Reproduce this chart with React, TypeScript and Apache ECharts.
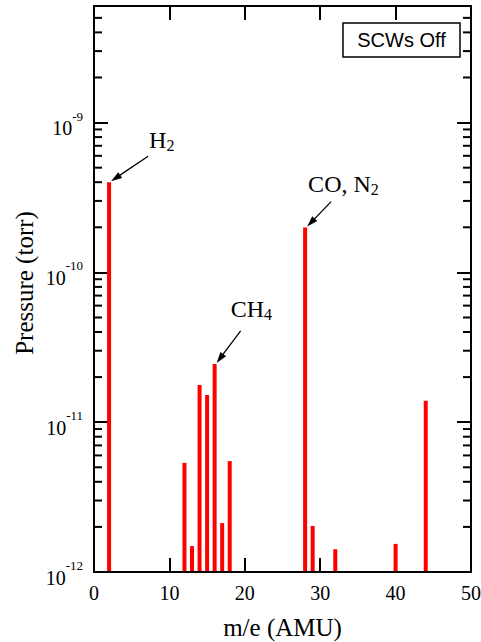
import React, { useEffect, useRef } from "react";
import * as echarts from "echarts";

// ---- data ----
const massNumbers = [2, 12, 13, 14, 15, 16, 17, 18, 28, 29, 32, 40, 44];
const pressures = [
  4.0e-10, 5.35e-12, 1.49e-12, 1.77e-11, 1.52e-11, 2.45e-11, 2.12e-12, 5.5e-12,
  1.99e-10, 2.03e-12, 1.42e-12, 1.54e-12, 1.39e-11,
];
const X_MIN = 0;
const X_MAX = 50;
const X_INTERVAL = 10;
const Y_MIN = 1e-12;
const Y_MAX = 6e-9;
const decadeExponents = [-12, -11, -10, -9];
const minorMultipliers = [2, 3, 4, 5, 6, 7, 8, 9];

const annotationMass = [2, 16, 28];
const annotationMain = ["H", "CH", "CO, N"];
const annotationSub = ["2", "4", "2"];
// pixel offsets relative to the bar top: [tailDx, tailDy, textDx, baselineDy]
const annotationOffsets = [
  [39, -26, 40, -34],
  [26, -33, 16, -47],
  [26, -26, 3, -36],
];

const legendText = "SCWs Off";

const SERIF_NAME = "Liberation Serif";
const SERIF = "'Liberation Serif', 'Times New Roman', serif";
const SANS = "'Liberation Sans', Arial, sans-serif";

const measureCtx = document.createElement("canvas").getContext("2d") as CanvasRenderingContext2D;
function textWidth(t: string, size: number): number {
  measureCtx.font = `${size}px '${SERIF_NAME}'`;
  return measureCtx.measureText(t).width;
}

export default function App() {
  const ref = useRef<HTMLDivElement>(null);

  useEffect(() => {
    document.body.style.margin = "0";
    const chart = echarts.init(ref.current as HTMLDivElement, null, { renderer: "svg" });

    const barData = massNumbers.map((m, i) => [m, pressures[i]]);
    const minorData: number[][] = [];
    decadeExponents.forEach((d) => {
      minorMultipliers.forEach((k) => {
        const v = k * Math.pow(10, d);
        if (v < Y_MAX * 0.999) minorData.push([X_MIN, v]);
      });
    });
    const decadeData = decadeExponents.map((e) => [X_MIN, Math.pow(10, e), e]);

    const axisLineStyle = { color: "#000", width: 2 };
    const majorTick = { show: true, inside: true, length: 14, lineStyle: { color: "#000", width: 2 } };

    const BASE_SIZE = 20;
    const SUP_SIZE = 13;

    const option: any = {
      animation: false,
      grid: { left: 94, right: 10, top: 6, bottom: 70, containLabel: false, outerBoundsMode: "none" },
      xAxis: [
        {
          type: "value",
          min: X_MIN,
          max: X_MAX,
          interval: X_INTERVAL,
          position: "bottom",
          axisLine: { show: true, onZero: false, lineStyle: axisLineStyle },
          axisTick: majorTick,
          axisLabel: { color: "#000", fontFamily: SERIF, fontSize: BASE_SIZE, margin: 11 },
          splitLine: { show: false },
          name: "m/e (AMU)",
          nameLocation: "middle",
          nameGap: 43,
          nameTextStyle: { color: "#000", fontFamily: SERIF, fontSize: 25 },
        },
        {
          type: "value",
          min: X_MIN,
          max: X_MAX,
          interval: X_INTERVAL,
          position: "top",
          axisLine: { show: true, onZero: false, lineStyle: axisLineStyle },
          axisTick: majorTick,
          axisLabel: { show: false },
          splitLine: { show: false },
        },
      ],
      yAxis: [
        {
          type: "log",
          logBase: 10,
          min: Y_MIN,
          max: Y_MAX,
          position: "left",
          axisLine: { show: true, onZero: false, lineStyle: axisLineStyle },
          axisTick: majorTick,
          splitLine: { show: false },
          axisLabel: { show: false },
          name: "Pressure (torr)",
          nameLocation: "middle",
          nameGap: 57,
          nameRotate: 90,
          nameTextStyle: { color: "#000", fontFamily: SERIF, fontSize: 25, padding: [0, 0, 0, 12] },
        },
        {
          type: "log",
          logBase: 10,
          min: Y_MIN,
          max: Y_MAX,
          position: "right",
          axisLine: { show: true, onZero: false, lineStyle: axisLineStyle },
          axisTick: majorTick,
          splitLine: { show: false },
          axisLabel: { show: false },
        },
      ],
      series: [
        {
          type: "custom",
          name: "minorTicks",
          xAxisIndex: 0,
          yAxisIndex: 0,
          data: minorData,
          encode: { x: 0, y: 1 },
          z: 3,
          renderItem: (params: any, api: any) => {
            const y = api.coord([X_MIN, api.value(1)])[1];
            const cs = params.coordSys;
            const left = cs.x;
            const right = cs.x + cs.width;
            return {
              type: "group",
              children: [
                { type: "line", shape: { x1: left, y1: y, x2: left + 8, y2: y }, style: { stroke: "#000", lineWidth: 2 } },
                { type: "line", shape: { x1: right - 8, y1: y, x2: right, y2: y }, style: { stroke: "#000", lineWidth: 2 } },
              ],
            };
          },
        },
        {
          type: "custom",
          name: "yLabels",
          xAxisIndex: 0,
          yAxisIndex: 0,
          data: decadeData,
          encode: { x: 0, y: 1 },
          clip: false,
          z: 3,
          renderItem: (params: any, api: any) => {
            const y = api.coord([X_MIN, api.value(1)])[1];
            const cs = params.coordSys;
            const right = cs.x - 11;
            const sup = String(api.value(2));
            const supW = textWidth(sup, SUP_SIZE);
            return {
              type: "group",
              children: [
                {
                  type: "text",
                  x: right - supW,
                  y: y + 5.5,
                  style: { text: "10", fontSize: BASE_SIZE, fontFamily: SERIF, fill: "#000", align: "right", verticalAlign: "middle" },
                },
                {
                  type: "text",
                  x: right,
                  y: y - 6.5,
                  style: { text: sup, fontSize: SUP_SIZE, fontFamily: SERIF, fill: "#000", align: "right", verticalAlign: "middle" },
                },
              ],
            };
          },
        },
        {
          type: "custom",
          name: "pressure",
          xAxisIndex: 0,
          yAxisIndex: 0,
          data: barData,
          encode: { x: 0, y: 1 },
          z: 2,
          renderItem: (params: any, api: any) => {
            const top = api.coord([api.value(0), api.value(1)]);
            const bottom = api.coord([api.value(0), Y_MIN]);
            const w = 4;
            return {
              type: "rect",
              shape: { x: top[0] - w / 2, y: top[1], width: w, height: bottom[1] - top[1] - 1 },
              style: { fill: "#ff0000" },
            };
          },
        },
      ],
    };

    chart.setOption(option);

    const MAIN_SIZE = 24;
    const SUB_SIZE = 16;
    const graphics: any[] = [];
    annotationMass.forEach((m, i) => {
      const idx = massNumbers.indexOf(m);
      const p = chart.convertToPixel({ gridIndex: 0 }, [m, pressures[idx]]) as number[];
      const [tdx, tdy, xdx, bdy] = annotationOffsets[i];
      const tip = [p[0] + 2, p[1] - 1];
      const tail = [p[0] + tdx, p[1] + tdy];
      const dx = tip[0] - tail[0];
      const dy = tip[1] - tail[1];
      const len = Math.sqrt(dx * dx + dy * dy);
      const ux = dx / len;
      const uy = dy / len;
      const headLen = 11;
      const headHalf = 3.5;
      const bx = tip[0] - ux * headLen;
      const by = tip[1] - uy * headLen;
      graphics.push({
        type: "line",
        shape: { x1: tail[0], y1: tail[1], x2: bx + ux * 2, y2: by + uy * 2 },
        style: { stroke: "#000", lineWidth: 1.3 },
        z: 10,
      });
      graphics.push({
        type: "polygon",
        shape: {
          points: [
            [tip[0], tip[1]],
            [bx - uy * headHalf, by + ux * headHalf],
            [bx + uy * headHalf, by - ux * headHalf],
          ],
        },
        style: { fill: "#000" },
        z: 10,
      });
      const tx = p[0] + xdx;
      const baseline = p[1] + bdy;
      const mainW = textWidth(annotationMain[i], MAIN_SIZE);
      graphics.push({
        type: "text",
        x: tx,
        y: baseline - 0.3375 * MAIN_SIZE,
        z: 10,
        style: { text: annotationMain[i], fontSize: MAIN_SIZE, fontFamily: SERIF, fill: "#000", align: "left", verticalAlign: "middle" },
      });
      graphics.push({
        type: "text",
        x: tx + mainW,
        y: baseline + 3 - 0.3375 * SUB_SIZE,
        z: 10,
        style: { text: annotationSub[i], fontSize: SUB_SIZE, fontFamily: SERIF, fill: "#000", align: "left", verticalAlign: "middle" },
      });
    });

    graphics.push({
      type: "rect",
      shape: { x: 343, y: 23, width: 117, height: 34 },
      style: { fill: "#fff", stroke: "#000", lineWidth: 1.5 },
      z: 10,
    });
    graphics.push({
      type: "text",
      x: 401.5,
      y: 40,
      z: 11,
      style: { text: legendText, fontSize: 20, fontFamily: SANS, fill: "#000", align: "center", verticalAlign: "middle" },
    });

    chart.setOption({ graphic: graphics });

    return () => {
      chart.dispose();
    };
  }, []);

  return <div ref={ref} style={{ position: "absolute", left: 0, top: 0, width: 481, height: 642 }} />;
}
